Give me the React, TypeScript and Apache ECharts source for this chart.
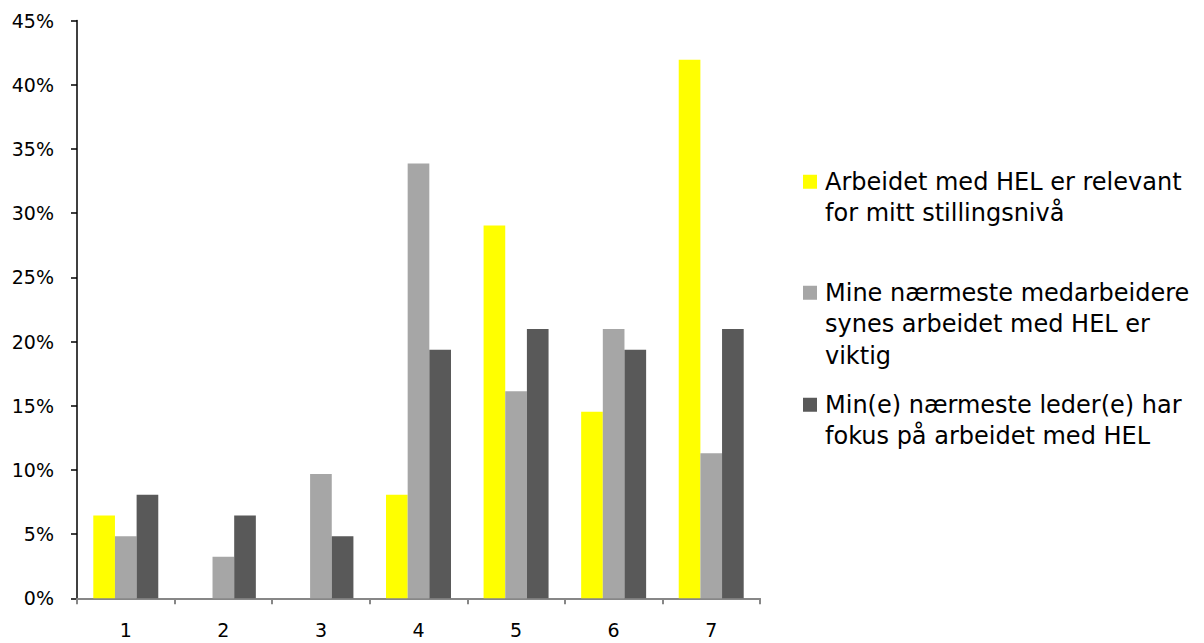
import React, { useEffect, useRef } from "react";
import * as echarts from "echarts";

// Response categories on the 1–7 scale
const categories = ["1", "2", "3", "4", "5", "6", "7"];

// Share of respondents (%) per category
const relevantForLevel = [6.45, 0, 0, 8.06, 29.03, 14.52, 41.94];
const colleaguesFindImportant = [4.84, 3.23, 9.68, 33.87, 16.13, 20.97, 11.29];
const managerFocus = [8.06, 6.45, 4.84, 19.35, 20.97, 19.35, 20.97];

const seriesNames = [
  "Arbeidet med HEL er relevant\nfor mitt stillingsnivå",
  "Mine nærmeste medarbeidere\nsynes arbeidet med HEL er\nviktig",
  "Min(e) nærmeste leder(e) har\nfokus på arbeidet med HEL",
];
const seriesColors = ["#FFFF00", "#A6A6A6", "#595959"];

const FONT = "DejaVu Sans";

export default function App() {
  const ref = useRef<HTMLDivElement>(null);

  useEffect(() => {
    if (!ref.current) return;
    const chart = echarts.init(ref.current, null, { renderer: "svg" });
    const seriesData = [relevantForLevel, colleaguesFindImportant, managerFocus];
    const legendTops = [166, 277, 389];

    chart.setOption({
      animation: false,
      backgroundColor: "#ffffff",
      grid: { left: 77, top: 20.5, right: 444, bottom: 44.7, containLabel: false },
      xAxis: {
        type: "category",
        data: categories,
        boundaryGap: true,
        axisLine: { show: true, lineStyle: { color: "#878787", width: 2 } },
        axisTick: { show: true, length: 6, lineStyle: { color: "#878787", width: 2 } },
        axisLabel: { color: "#000", fontFamily: FONT, fontSize: 19, margin: 22 },
        splitLine: { show: false },
      },
      yAxis: {
        type: "value",
        min: 0,
        max: 45,
        interval: 5,
        axisLine: { show: true, lineStyle: { color: "#000", width: 1.5 } },
        axisTick: { show: true, length: 6, lineStyle: { color: "#000", width: 1.5 } },
        axisLabel: {
          color: "#000",
          fontFamily: FONT,
          fontSize: 19,
          margin: 23,
          formatter: (v: number) => `${v}%`,
        },
        splitLine: { show: false },
      },
      series: seriesData.map((d, i) => ({
        type: "bar",
        name: seriesNames[i],
        data: d,
        barGap: "0%",
        barCategoryGap: "33.4%",
        itemStyle: { color: seriesColors[i] },
      })),
      graphic: seriesNames.map((name, i) => ({
        type: "group",
        left: 803,
        top: legendTops[i],
        children: [
          {
            type: "rect",
            shape: { x: 0, y: 8.75, width: 14, height: 14 },
            style: { fill: seriesColors[i] },
          },
          {
            type: "text",
            x: 22,
            y: 0,
            style: {
              text: name,
              fill: "#000",
              font: `24px "${FONT}"`,
              lineHeight: 31.5,
              textVerticalAlign: "top",
            },
          },
        ],
      })),
    });

    return () => chart.dispose();
  }, []);

  return (
    <div
      ref={ref}
      style={{ position: "fixed", left: 0, top: 0, width: 1204, height: 643 }}
    />
  );
}
